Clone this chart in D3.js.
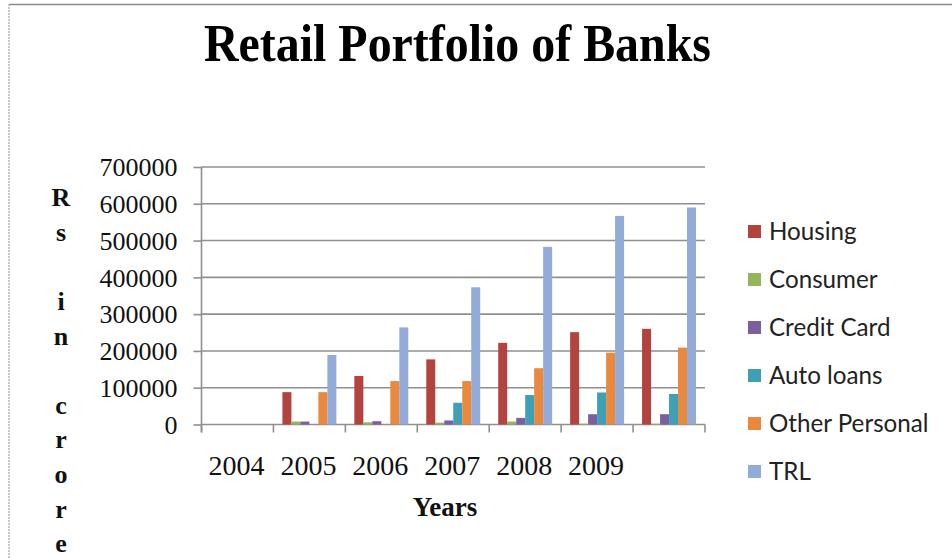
<!DOCTYPE html>
<html>
<head>
<meta charset="utf-8">
<script src="https://cdn.jsdelivr.net/npm/d3@7/dist/d3.min.js"></script>
<style>
  html, body { margin: 0; padding: 0; background: #fff; }
  svg { display: block; }
</style>
</head>
<body>
<svg id="chart" width="952" height="558"></svg>
<script>
// Retail loan portfolio of banks, Rs in crore
const categories = ["2004", "2005", "2006", "2007", "2008", "2009", ""];
const seriesNames = ["Housing", "Consumer", "Credit Card", "Auto loans", "Other Personal", "TRL"];
const housing       = [0,  88000, 132000, 177000, 222000, 251000, 260000];
const consumer      = [0,   8000,   6000,   5000,   8000,   2000,   2000];
const creditCard    = [0,   8000,   9000,  11000,  18000,  28000,  28000];
const autoLoans     = [0,      0,      0,  59000,  80000,  87000,  83000];
const otherPersonal = [0,  88000, 118000, 118000, 153000, 195000, 209000];
const trl           = [0, 189000, 264000, 373000, 483000, 567000, 590000];
const yTicks = [0, 100000, 200000, 300000, 400000, 500000, 600000, 700000];
const seriesColors = ["#B2433F", "#93B65A", "#7D5FA0", "#3E9FB7", "#E8893D", "#92ABD8"];
const yTitle = "Rs in crore";

const seriesValues = [housing, consumer, creditCard, autoLoans, otherPersonal, trl];
const table = categories.map((c, i) => ({
  category: c,
  values: seriesNames.map((s, k) => ({ series: s, value: seriesValues[k][i] }))
}));

const svg = d3.select("#chart");
const serif = "'Liberation Serif', 'Times New Roman', serif";
const sans = "Lato, Carlito, 'Open Sans', sans-serif";

// outer frame (top and left edges)
svg.append("line").attr("x1", 9).attr("x2", 952).attr("y1", 4.5).attr("y2", 4.5)
  .attr("stroke", "#8a8a8a").attr("stroke-width", 1.5);
svg.append("line").attr("x1", 9).attr("x2", 9).attr("y1", 4).attr("y2", 558)
  .attr("stroke", "#b5b5b5").attr("stroke-width", 1.5).attr("stroke-dasharray", "2,1");

// title
svg.append("text")
  .attr("x", 204).attr("y", 61)
  .attr("font-family", serif).attr("font-weight", "bold").attr("font-size", 52)
  .attr("textLength", 507).attr("lengthAdjust", "spacingAndGlyphs")
  .attr("fill", "#000")
  .text("Retail Portfolio of Banks");

const plotLeft = 201.5, plotRight = 705, plotTop = 167, plotBottom = 424.5;

const x0 = d3.scaleBand().domain(d3.range(categories.length)).range([plotLeft, plotRight]).padding(0);
const bw = x0.bandwidth();
const x1 = d3.scaleBand().domain(seriesNames).range([bw / 8, bw * 7 / 8]).padding(0);
const y = d3.scaleLinear().domain([0, 700000]).range([plotBottom, plotTop]);
const color = d3.scaleOrdinal().domain(seriesNames).range(seriesColors);

// horizontal gridlines
svg.append("g")
  .selectAll("line")
  .data(yTicks)
  .join("line")
  .attr("x1", plotLeft).attr("x2", plotRight)
  .attr("y1", d => y(d)).attr("y2", d => y(d))
  .attr("stroke", "#8f8f8f").attr("stroke-width", 1.6);

// y axis
const yAxis = d3.axisLeft(y).tickValues(yTicks).tickSize(8).tickPadding(16).tickFormat(d3.format("d"));
const gy = svg.append("g").attr("transform", `translate(${plotLeft},0)`).call(yAxis);
gy.select(".domain").attr("stroke", "#8f8f8f").attr("stroke-width", 1.6)
  .attr("d", `M0,${plotTop}V${plotBottom + 8}`);
gy.selectAll(".tick line").attr("stroke", "#8f8f8f").attr("stroke-width", 1.6);
gy.selectAll(".tick text")
  .attr("font-family", serif).attr("font-size", 26).attr("fill", "#111")
  .attr("dy", "0.34em");

// x axis: category boundary ticks
const boundaries = d3.range(categories.length + 1).map(i => plotLeft + i * bw);
svg.append("g")
  .selectAll("line")
  .data(boundaries)
  .join("line")
  .attr("x1", d => d).attr("x2", d => d)
  .attr("y1", plotBottom).attr("y2", plotBottom + 8)
  .attr("stroke", "#8f8f8f").attr("stroke-width", 1.6);

svg.append("g")
  .selectAll("text")
  .data(categories)
  .join("text")
  .attr("x", (d, i) => x0(i) + bw / 2 - 1)
  .attr("y", 475)
  .attr("text-anchor", "middle")
  .attr("font-family", serif).attr("font-size", 28).attr("fill", "#111")
  .text(d => d);

// bars
svg.append("g")
  .selectAll("g")
  .data(table)
  .join("g")
  .attr("transform", (d, i) => `translate(${x0(i)},0)`)
  .selectAll("rect")
  .data(d => d.values)
  .join("rect")
  .attr("x", d => x1(d.series))
  .attr("width", x1.bandwidth())
  .attr("y", d => y(d.value))
  .attr("height", d => y(0) - y(d.value))
  .attr("fill", d => color(d.series));

// axis titles
svg.append("text")
  .attr("x", 445).attr("y", 516)
  .attr("text-anchor", "middle")
  .attr("font-family", serif).attr("font-weight", "bold").attr("font-size", 27)
  .attr("fill", "#111")
  .text("Years");

svg.append("g")
  .selectAll("text")
  .data(yTitle.split(""))
  .join("text")
  .attr("x", 61)
  .attr("y", (d, i) => 197 + i * 34.6)
  .attr("dy", "0.35em")
  .attr("text-anchor", "middle")
  .attr("font-family", serif).attr("font-weight", "bold").attr("font-size", 26)
  .attr("fill", "#111")
  .text(d => d);

// legend
const legend = svg.append("g")
  .selectAll("g")
  .data(seriesNames)
  .join("g")
  .attr("transform", (d, i) => `translate(748,${231.5 + i * 48})`);
legend.append("rect")
  .attr("x", 0).attr("y", -6.5).attr("width", 13).attr("height", 13)
  .attr("fill", d => color(d));
legend.append("text")
  .attr("x", 21).attr("y", 0).attr("dy", "0.36em")
  .attr("font-family", sans).attr("font-size", 24.2).attr("fill", "#222")
  .text(d => d);
</script>
</body>
</html>
